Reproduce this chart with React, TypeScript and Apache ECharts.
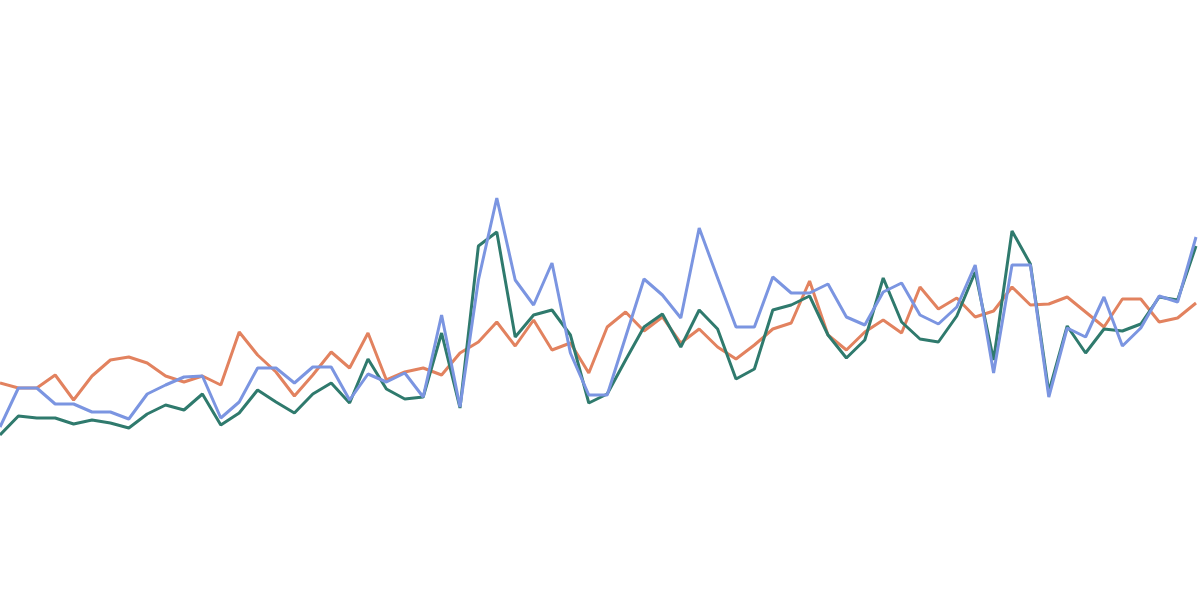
import React, { useEffect, useRef } from "react";
import * as echarts from "echarts";

const categories: string[] = Array.from({ length: 66 }, (_, i) => String(i + 1));

const orangeValues = [21.7, 21.2, 21.2, 22.5, 20.0, 22.4, 24.0, 24.3, 23.7, 22.4, 21.8, 22.4, 21.5, 26.8, 24.5, 22.8, 20.4, 22.5, 24.8, 23.2, 26.7, 22.0, 22.8, 23.2, 22.5, 24.7, 25.8, 27.8, 25.4, 28.0, 25.0, 25.7, 22.7, 27.3, 28.8, 26.9, 28.3, 25.7, 27.1, 25.3, 24.1, 25.5, 27.1, 27.7, 31.9, 26.5, 25.0, 26.8, 28.0, 26.7, 31.3, 29.1, 30.2, 28.3, 28.9, 31.3, 29.5, 29.6, 30.3, 28.8, 27.3, 30.1, 30.1, 27.8, 28.2, 29.7];

const blueValues = [17.3, 21.2, 21.2, 19.6, 19.6, 18.8, 18.8, 18.1, 20.6, 21.5, 22.3, 22.4, 18.2, 19.8, 23.2, 23.2, 21.7, 23.3, 23.3, 20.0, 22.6, 21.8, 22.7, 20.3, 28.5, 19.3, 32.0, 40.2, 32.0, 29.5, 33.7, 24.7, 20.5, 20.5, 26.3, 32.1, 30.5, 28.2, 37.2, 32.2, 27.3, 27.3, 32.3, 30.7, 30.7, 31.6, 28.3, 27.5, 30.8, 31.7, 28.5, 27.6, 29.3, 33.5, 22.7, 33.5, 33.5, 20.3, 27.2, 26.3, 30.3, 25.4, 27.2, 30.4, 29.8, 36.3];

const greenValues = [16.5, 18.4, 18.2, 18.2, 17.6, 18.0, 17.7, 17.2, 18.6, 19.5, 19.0, 20.6, 17.5, 18.7, 21.0, 19.8, 18.7, 20.6, 21.7, 19.7, 24.1, 21.1, 20.1, 20.3, 26.7, 19.2, 35.4, 36.8, 26.3, 28.5, 29.0, 26.5, 19.7, 20.6, 24.0, 27.3, 28.6, 25.3, 29.0, 27.1, 22.1, 23.1, 29.0, 29.5, 30.4, 26.5, 24.2, 26.0, 32.2, 27.8, 26.1, 25.8, 28.4, 32.8, 24.0, 36.9, 33.6, 20.8, 27.4, 24.7, 27.1, 26.9, 27.6, 30.3, 30.0, 35.4];

const seriesDefs = [
  { name: "A", data: orangeValues, color: "#e2825f" },
  { name: "B", data: greenValues, color: "#2f7a6d" },
  { name: "C", data: blueValues, color: "#7b95e1" },
];

export default function App() {
  const ref = useRef<HTMLDivElement>(null);
  useEffect(() => {
    if (!ref.current) return;
    const chart = echarts.init(ref.current, undefined, { renderer: "svg" });
    chart.setOption({
      animation: false,
      backgroundColor: "#ffffff",
      grid: { left: 0, right: 4, top: 0, bottom: 0, containLabel: false },
      xAxis: {
        type: "category",
        data: categories,
        boundaryGap: false,
        show: false,
      },
      yAxis: { type: "value", min: 0, max: 60, show: false },
      series: seriesDefs.map((s) => ({
        name: s.name,
        type: "line",
        data: s.data,
        showSymbol: false,
        symbol: "none",
        lineStyle: { color: s.color, width: 3 },
        itemStyle: { color: s.color },
      })),
    });
    return () => chart.dispose();
  }, []);
  return (
    <div
      ref={ref}
      style={{ position: "absolute", left: 0, top: 0, width: 1200, height: 600 }}
    />
  );
}
